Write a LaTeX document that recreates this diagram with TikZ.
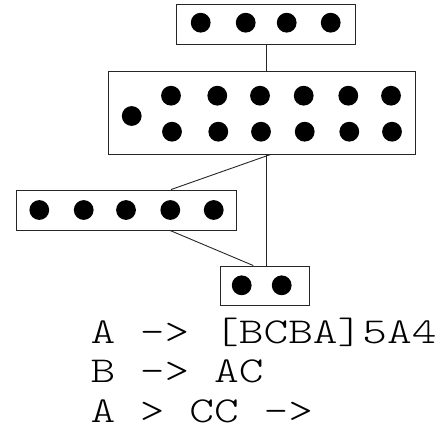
\documentclass[tikz,border=0pt]{standalone}
\usepackage{fontspec}
\newfontfamily\lmlight[Extension=.otf,FakeStretch=1.29]{lmmonolt10-regular}
\begin{document}
\begin{tikzpicture}[x=1pt,y=-1pt,
  box/.style={draw=black!85,line width=0.9pt,fill=none,inner sep=0pt,minimum width=#1},
  conn/.style={draw=black!85,line width=0.9pt},
  dot/.style={fill=black},
  txt/.style={anchor=base west,inner sep=0pt,font=\fontsize{36.5}{40}\lmlight}]
\useasboundingbox (0,0) rectangle (443,428);
% boxes
\node[box=179pt,minimum height=40pt] (b1) at (265.5,24) {};
\node[box=306.6pt,minimum height=82.3pt] (b2) at (262,112.85) {};
\node[box=220.7pt,minimum height=40pt] (b3) at (126.35,210) {};
\node[box=89.3pt,minimum height=39.7pt] (b4) at (264.65,285.85) {};
% connectors
\draw[conn] ([xshift=1.2pt]b1.south) -- ([xshift=4.7pt]b2.north);
\draw[conn] ([xshift=8.7pt]b2.south) -- ([xshift=44.65pt]b3.north);
\draw[conn] ([xshift=4.7pt]b2.south) -- ([xshift=2.05pt]b4.north);
\draw[conn] ([xshift=43.65pt]b3.south) -- ([xshift=-11.35pt]b4.north);
% dots
\foreach \x in {200.7,245.7,286.7,330.7} \fill[dot] (\x,22.7) circle (9.9);
\fill[dot] (131.7,116) circle (9.9);
\foreach \x in {171,217.3,260,303.7,348.3,391} \fill[dot] (\x,95.7) circle (9.9);
\foreach \x in {172,218.3,261,304.7,349.3,392} \fill[dot] (\x,131.7) circle (9.9);
\foreach \x in {39.3,83.7,126,170.3,213.7} \fill[dot] (\x,210) circle (9.9);
\foreach \x in {241.7,281.7} \fill[dot] (\x,285.3) circle (9.9);
% text
\node[txt] (l1) at (90.3,343) {A -> [BCBA]5A4};
\node[txt] (l2) at (90.3,382) {B -> AC};
\node[txt] (l3) at (90.3,422) {A > CC ->};
\end{tikzpicture}
\end{document}
